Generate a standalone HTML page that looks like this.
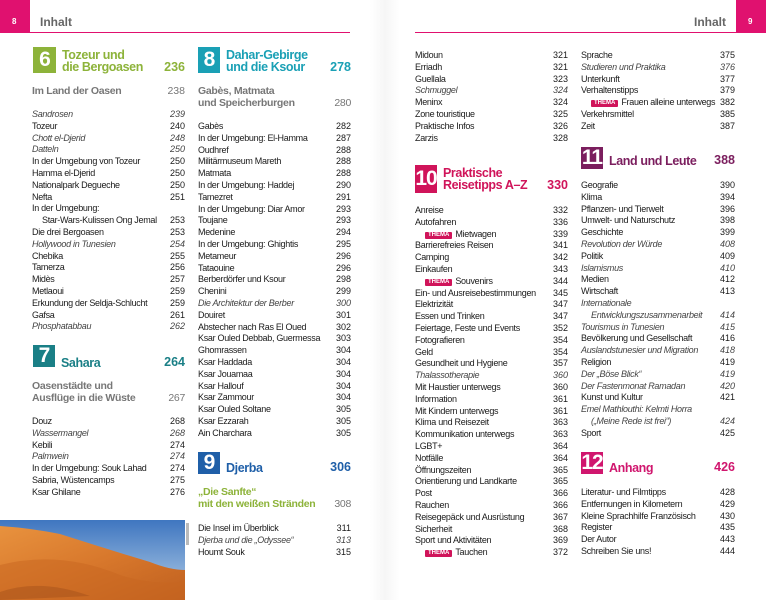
<!DOCTYPE html>
<html><head><meta charset="utf-8"><style>
body{margin:0;width:766px;height:600px;position:relative;overflow:hidden;background:#fff;font-family:"Liberation Sans",sans-serif;color:#1a1a1a}
.a{position:absolute}
.l{position:absolute;font-size:9px;line-height:11.8px;letter-spacing:-0.3px}
.r{display:flex;justify-content:space-between;height:11.8px;white-space:nowrap}
.r>span:last-child{letter-spacing:0}
.i{font-style:italic;color:#444}
.ind{padding-left:10px}
.t{display:inline-block;background:#d0145a;color:#fff;font-size:6px;font-weight:bold;line-height:7px;padding:0 3px;border-radius:1px;margin-left:10px;margin-right:3px;vertical-align:1px;letter-spacing:0}
.box{position:absolute;color:#fff;font-weight:bold;font-size:21px;text-align:center;letter-spacing:-1px}
.ct{position:absolute;font-weight:bold;font-size:12.5px;line-height:12px;letter-spacing:-0.4px}
.cp{position:absolute;font-weight:bold;font-size:12.5px;text-align:right}
.sub{position:absolute;font-size:10.5px;line-height:12px;color:#777;font-weight:bold;letter-spacing:-0.3px}
</style></head><body>
<div class="a" style="left:0;top:0;width:30px;height:33px;background:#e0116f"></div>
<div class="a" style="left:12px;top:17px;color:#fff;font-size:8px;font-weight:bold">8</div>
<div class="a" style="left:40px;top:15px;color:#666;font-size:12px;font-weight:bold">Inhalt</div>
<div class="a" style="left:0;top:32px;width:350px;height:1px;background:#e0116f"></div>
<div class="a" style="left:736px;top:0;width:30px;height:33px;background:#e0116f"></div>
<div class="a" style="left:748px;top:17px;color:#fff;font-size:8px;font-weight:bold">9</div>
<div class="a" style="left:694px;top:15px;color:#666;font-size:12px;font-weight:bold">Inhalt</div>
<div class="a" style="left:415px;top:32px;width:351px;height:1px;background:#e0116f"></div>
<div class="a" style="left:370px;top:0;width:30px;height:600px;background:linear-gradient(90deg,#fff,#f6f6f6 50%,#fff)"></div>

<!-- col1 -->
<div class="box" style="left:33px;top:47px;width:23px;height:26px;line-height:26px;background:#8db33a">6</div>
<div class="ct" style="left:62px;top:49px;color:#8db33a">Tozeur und<br>die Bergoasen</div>
<div class="cp" style="left:140px;top:60px;width:45px;color:#8db33a">236</div>
<div class="sub" style="left:32px;top:85px;width:153px"><div class="r" style="height:12px"><span>Im Land der Oasen</span><span style="font-weight:normal">238</span></div></div>
<div class="l" style="left:32px;top:109px;width:153px">
<div class="r i"><span>Sandrosen</span><span>239</span></div>
<div class="r"><span>Tozeur</span><span>240</span></div>
<div class="r i"><span>Chott el-Djerid</span><span>248</span></div>
<div class="r i"><span>Datteln</span><span>250</span></div>
<div class="r"><span>In der Umgebung von Tozeur</span><span>250</span></div>
<div class="r"><span>Hamma el-Djerid</span><span>250</span></div>
<div class="r"><span>Nationalpark Degueche</span><span>250</span></div>
<div class="r"><span>Nefta</span><span>251</span></div>
<div class="r"><span>In der Umgebung:</span><span></span></div>
<div class="r ind"><span>Star-Wars-Kulissen Ong Jemal</span><span>253</span></div>
<div class="r"><span>Die drei Bergoasen</span><span>253</span></div>
<div class="r i"><span>Hollywood in Tunesien</span><span>254</span></div>
<div class="r"><span>Chebika</span><span>255</span></div>
<div class="r"><span>Tamerza</span><span>256</span></div>
<div class="r"><span>Midès</span><span>257</span></div>
<div class="r"><span>Metlaoui</span><span>259</span></div>
<div class="r"><span>Erkundung der Seldja-Schlucht</span><span>259</span></div>
<div class="r"><span>Gafsa</span><span>261</span></div>
<div class="r i"><span>Phosphatabbau</span><span>262</span></div>
</div>
<div class="box" style="left:33px;top:345px;width:22px;height:22px;line-height:22px;background:#1a7f86">7</div>
<div class="ct" style="left:61px;top:357px;color:#1a7f86">Sahara</div>
<div class="cp" style="left:140px;top:355px;width:45px;color:#1a7f86">264</div>
<div class="sub" style="left:32px;top:380px;width:153px">Oasenstädte und<br>Ausflüge in die Wüste<span class="a" style="right:0;top:12px;font-weight:normal">267</span></div>
<div class="l" style="left:32px;top:416px;width:153px">
<div class="r"><span>Douz</span><span>268</span></div>
<div class="r i"><span>Wassermangel</span><span>268</span></div>
<div class="r"><span>Kebili</span><span>274</span></div>
<div class="r i"><span>Palmwein</span><span>274</span></div>
<div class="r"><span>In der Umgebung: Souk Lahad</span><span>274</span></div>
<div class="r"><span>Sabria, Wüstencamps</span><span>275</span></div>
<div class="r"><span>Ksar Ghilane</span><span>276</span></div>
</div>
<svg class="a" style="left:0;top:520px" width="185" height="80">
<defs><linearGradient id="s" x1="0" y1="0" x2="0" y2="1"><stop offset="0" stop-color="#3f76c0"/><stop offset="1" stop-color="#b4cfe8"/></linearGradient>
<linearGradient id="d" x1="0" y1="0" x2="1" y2="1"><stop offset="0" stop-color="#e8923e"/><stop offset="0.5" stop-color="#d8782c"/><stop offset="1" stop-color="#c0601f"/></linearGradient></defs>
<rect width="185" height="80" fill="url(#s)"/>
<path d="M0 6 Q30 8 60 14 Q110 30 150 42 Q170 50 185 50 L185 80 L0 80Z" fill="url(#d)"/>
<path d="M0 45 Q60 30 120 55 Q150 65 185 62 L185 80 L0 80Z" fill="#c8661f" opacity=".5"/>
<path d="M0 72 Q40 58 90 76 L0 80Z" fill="#9c4a18" opacity=".4"/>
</svg>
<div class="a" style="left:186px;top:523px;width:3px;height:22px;background:#bbb"></div>

<!-- col2 -->
<div class="box" style="left:198px;top:47px;width:22px;height:26px;line-height:26px;background:#1aa0b5">8</div>
<div class="ct" style="left:226px;top:49px;color:#1aa0b5">Dahar-Gebirge<br>und die Ksour</div>
<div class="cp" style="left:306px;top:60px;width:45px;color:#1aa0b5">278</div>
<div class="sub" style="left:198px;top:85px;width:153px">Gabès, Matmata<br>und Speicherburgen<span class="a" style="right:0;top:12px;font-weight:normal">280</span></div>
<div class="l" style="left:198px;top:121px;width:153px">
<div class="r"><span>Gabès</span><span>282</span></div>
<div class="r"><span>In der Umgebung: El-Hamma</span><span>287</span></div>
<div class="r"><span>Oudhref</span><span>288</span></div>
<div class="r"><span>Militärmuseum Mareth</span><span>288</span></div>
<div class="r"><span>Matmata</span><span>288</span></div>
<div class="r"><span>In der Umgebung: Haddej</span><span>290</span></div>
<div class="r"><span>Tamezret</span><span>291</span></div>
<div class="r"><span>In der Umgebung: Diar Amor</span><span>293</span></div>
<div class="r"><span>Toujane</span><span>293</span></div>
<div class="r"><span>Medenine</span><span>294</span></div>
<div class="r"><span>In der Umgebung: Ghightis</span><span>295</span></div>
<div class="r"><span>Metameur</span><span>296</span></div>
<div class="r"><span>Tataouine</span><span>296</span></div>
<div class="r"><span>Berberdörfer und Ksour</span><span>298</span></div>
<div class="r"><span>Chenini</span><span>299</span></div>
<div class="r i"><span>Die Architektur der Berber</span><span>300</span></div>
<div class="r"><span>Douiret</span><span>301</span></div>
<div class="r"><span>Abstecher nach Ras El Oued</span><span>302</span></div>
<div class="r"><span>Ksar Ouled Debbab, Guermessa</span><span>303</span></div>
<div class="r"><span>Ghomrassen</span><span>304</span></div>
<div class="r"><span>Ksar Haddada</span><span>304</span></div>
<div class="r"><span>Ksar Jouamaa</span><span>304</span></div>
<div class="r"><span>Ksar Hallouf</span><span>304</span></div>
<div class="r"><span>Ksar Zammour</span><span>304</span></div>
<div class="r"><span>Ksar Ouled Soltane</span><span>305</span></div>
<div class="r"><span>Ksar Ezzarah</span><span>305</span></div>
<div class="r"><span>Ain Charchara</span><span>305</span></div>
</div>
<div class="box" style="left:198px;top:452px;width:22px;height:22px;line-height:22px;background:#1f5fa8">9</div>
<div class="ct" style="left:226px;top:462px;color:#1f5fa8">Djerba</div>
<div class="cp" style="left:306px;top:460px;width:45px;color:#1f5fa8">306</div>
<div class="sub" style="left:198px;top:486px;width:153px;color:#8db33a">„Die Sanfte“<br>mit den weißen Stränden<span class="a" style="right:0;top:12px;font-weight:normal;color:#777">308</span></div>
<div class="l" style="left:198px;top:523px;width:153px">
<div class="r"><span>Die Insel im Überblick</span><span>311</span></div>
<div class="r i"><span>Djerba und die „Odyssee“</span><span>313</span></div>
<div class="r"><span>Houmt Souk</span><span>315</span></div>
</div>

<!-- col3 -->
<div class="l" style="left:415px;top:50px;width:153px">
<div class="r"><span>Midoun</span><span>321</span></div>
<div class="r"><span>Erriadh</span><span>321</span></div>
<div class="r"><span>Guellala</span><span>323</span></div>
<div class="r i"><span>Schmuggel</span><span>324</span></div>
<div class="r"><span>Meninx</span><span>324</span></div>
<div class="r"><span>Zone touristique</span><span>325</span></div>
<div class="r"><span>Praktische Infos</span><span>326</span></div>
<div class="r"><span>Zarzis</span><span>328</span></div>
</div>
<div class="box" style="left:415px;top:165px;width:22px;height:28px;line-height:28px;background:#d0145a">10</div>
<div class="ct" style="left:443px;top:167px;color:#d0145a">Praktische<br>Reisetipps A–Z</div>
<div class="cp" style="left:523px;top:178px;width:45px;color:#d0145a">330</div>
<div class="l" style="left:415px;top:205px;width:153px">
<div class="r"><span>Anreise</span><span>332</span></div>
<div class="r"><span>Autofahren</span><span>336</span></div>
<div class="r"><span><span class="t">THEMA</span>Mietwagen</span><span>339</span></div>
<div class="r"><span>Barrierefreies Reisen</span><span>341</span></div>
<div class="r"><span>Camping</span><span>342</span></div>
<div class="r"><span>Einkaufen</span><span>343</span></div>
<div class="r"><span><span class="t">THEMA</span>Souvenirs</span><span>344</span></div>
<div class="r"><span>Ein- und Ausreisebestimmungen</span><span>345</span></div>
<div class="r"><span>Elektrizität</span><span>347</span></div>
<div class="r"><span>Essen und Trinken</span><span>347</span></div>
<div class="r"><span>Feiertage, Feste und Events</span><span>352</span></div>
<div class="r"><span>Fotografieren</span><span>354</span></div>
<div class="r"><span>Geld</span><span>354</span></div>
<div class="r"><span>Gesundheit und Hygiene</span><span>357</span></div>
<div class="r i"><span>Thalassotherapie</span><span>360</span></div>
<div class="r"><span>Mit Haustier unterwegs</span><span>360</span></div>
<div class="r"><span>Information</span><span>361</span></div>
<div class="r"><span>Mit Kindern unterwegs</span><span>361</span></div>
<div class="r"><span>Klima und Reisezeit</span><span>363</span></div>
<div class="r"><span>Kommunikation unterwegs</span><span>363</span></div>
<div class="r"><span>LGBT+</span><span>364</span></div>
<div class="r"><span>Notfälle</span><span>364</span></div>
<div class="r"><span>Öffnungszeiten</span><span>365</span></div>
<div class="r"><span>Orientierung und Landkarte</span><span>365</span></div>
<div class="r"><span>Post</span><span>366</span></div>
<div class="r"><span>Rauchen</span><span>366</span></div>
<div class="r"><span>Reisegepäck und Ausrüstung</span><span>367</span></div>
<div class="r"><span>Sicherheit</span><span>368</span></div>
<div class="r"><span>Sport und Aktivitäten</span><span>369</span></div>
<div class="r"><span><span class="t">THEMA</span>Tauchen</span><span>372</span></div>
</div>

<!-- col4 -->
<div class="l" style="left:581px;top:50px;width:154px">
<div class="r"><span>Sprache</span><span>375</span></div>
<div class="r i"><span>Studieren und Praktika</span><span>376</span></div>
<div class="r"><span>Unterkunft</span><span>377</span></div>
<div class="r"><span>Verhaltenstipps</span><span>379</span></div>
<div class="r"><span><span class="t">THEMA</span>Frauen alleine unterwegs</span><span>382</span></div>
<div class="r"><span>Verkehrsmittel</span><span>385</span></div>
<div class="r"><span>Zeit</span><span>387</span></div>
</div>
<div class="box" style="left:581px;top:147px;width:22px;height:22px;line-height:22px;background:#7b1e5e">11</div>
<div class="ct" style="left:609px;top:155px;color:#7b1e5e">Land und Leute</div>
<div class="cp" style="left:690px;top:153px;width:45px;color:#7b1e5e">388</div>
<div class="l" style="left:581px;top:180px;width:154px">
<div class="r"><span>Geografie</span><span>390</span></div>
<div class="r"><span>Klima</span><span>394</span></div>
<div class="r"><span>Pflanzen- und Tierwelt</span><span>396</span></div>
<div class="r"><span>Umwelt- und Naturschutz</span><span>398</span></div>
<div class="r"><span>Geschichte</span><span>399</span></div>
<div class="r i"><span>Revolution der Würde</span><span>408</span></div>
<div class="r"><span>Politik</span><span>409</span></div>
<div class="r i"><span>Islamismus</span><span>410</span></div>
<div class="r"><span>Medien</span><span>412</span></div>
<div class="r"><span>Wirtschaft</span><span>413</span></div>
<div class="r i"><span>Internationale</span><span></span></div>
<div class="r i ind"><span>Entwicklungszusammenarbeit</span><span>414</span></div>
<div class="r i"><span>Tourismus in Tunesien</span><span>415</span></div>
<div class="r"><span>Bevölkerung und Gesellschaft</span><span>416</span></div>
<div class="r i"><span>Auslandstunesier und Migration</span><span>418</span></div>
<div class="r"><span>Religion</span><span>419</span></div>
<div class="r i"><span>Der „Böse Blick“</span><span>419</span></div>
<div class="r i"><span>Der Fastenmonat Ramadan</span><span>420</span></div>
<div class="r"><span>Kunst und Kultur</span><span>421</span></div>
<div class="r i"><span>Emel Mathlouthi: Kelmti Horra</span><span></span></div>
<div class="r i ind"><span>(„Meine Rede ist frei“)</span><span>424</span></div>
<div class="r"><span>Sport</span><span>425</span></div>
</div>
<div class="box" style="left:581px;top:452px;width:22px;height:22px;line-height:22px;background:#d0166e">12</div>
<div class="ct" style="left:609px;top:462px;color:#d0166e">Anhang</div>
<div class="cp" style="left:690px;top:460px;width:45px;color:#d0166e">426</div>
<div class="l" style="left:581px;top:487px;width:154px">
<div class="r"><span>Literatur- und Filmtipps</span><span>428</span></div>
<div class="r"><span>Entfernungen in Kilometern</span><span>429</span></div>
<div class="r"><span>Kleine Sprachhilfe Französisch</span><span>430</span></div>
<div class="r"><span>Register</span><span>435</span></div>
<div class="r"><span>Der Autor</span><span>443</span></div>
<div class="r"><span>Schreiben Sie uns!</span><span>444</span></div>
</div>
</body></html>
